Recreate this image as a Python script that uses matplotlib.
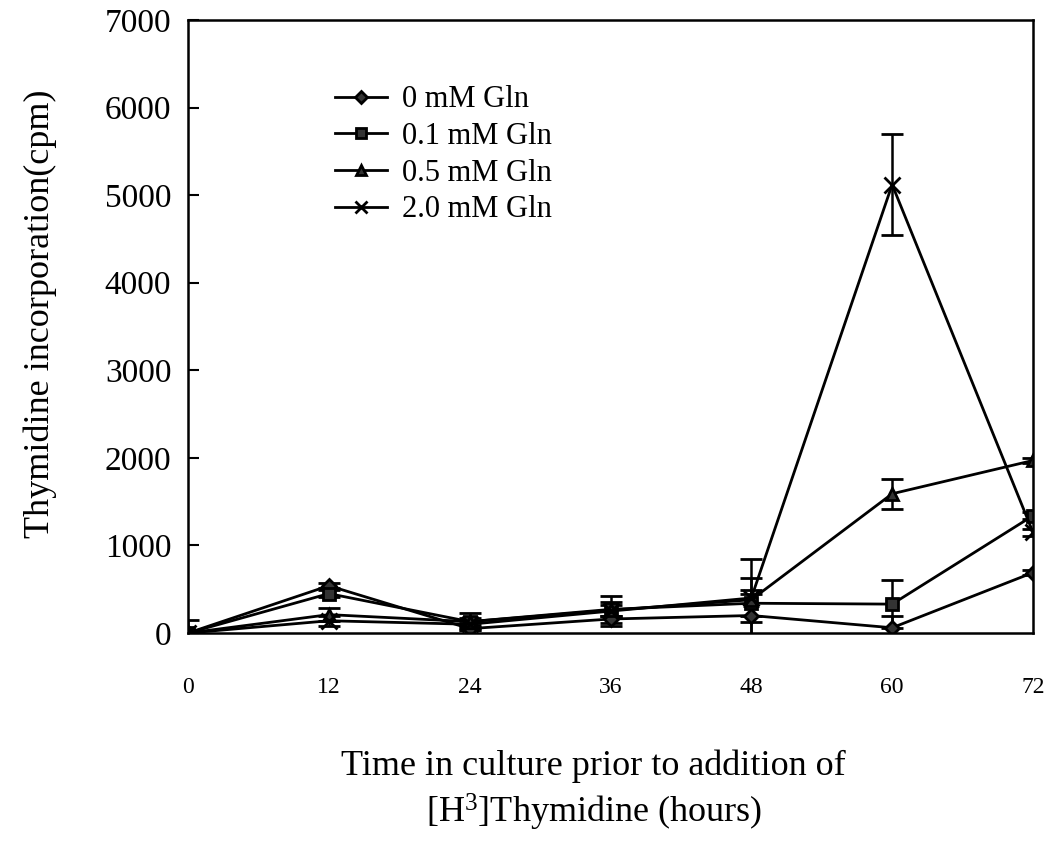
import matplotlib
matplotlib.use("Agg")
import matplotlib.pyplot as plt
from matplotlib.lines import Line2D

plt.rcParams['font.family'] = ['Liberation Serif', 'DejaVu Serif']
plt.rcParams['mathtext.fontset'] = 'custom'
plt.rcParams['mathtext.rm'] = 'Liberation Serif'
plt.rcParams['mathtext.it'] = 'Liberation Serif'

hours = [0, 12, 24, 36, 48, 60, 72]
x_ticks = [0, 12, 24, 36, 48, 60, 72]
y_ticks = [0, 1000, 2000, 3000, 4000, 5000, 6000, 7000]

labels = ["0 mM Gln", "0.1 mM Gln", "0.5 mM Gln", "2.0 mM Gln"]
gln_0 = [0, 540, 50, 160, 200, 60, 690]
gln_01 = [0, 450, 130, 270, 340, 330, 1340]
gln_05 = [0, 210, 130, 260, 380, 1590, 1970]
gln_20 = [0, 140, 100, 250, 400, 5120, 1150]

err_0 = [0, 30, 20, 40, 250, 130, 30]
err_01 = [150, 40, 100, 80, 150, 270, 40]
err_05 = [30, 70, 40, 60, 250, 170, 30]
err_20 = [30, 60, 40, 170, 450, 580, 40]

series = [gln_0, gln_01, gln_05, gln_20]
errors = [err_0, err_01, err_05, err_20]
markers = ['D', 's', '^', 'x']
msizes = [7, 9, 9, 11]

fig = plt.figure(figsize=(10.47, 8.41), dpi=100)
ax = fig.add_axes([0.1796, 0.2473, 0.807, 0.729])

handles = []
for vals, err, mk, ms, lab in zip(series, errors, markers, msizes, labels):
    ax.errorbar(hours, vals, yerr=err, color='black', ecolor='black', lw=2,
                elinewidth=1.8, capsize=8, capthick=2, marker=mk, ms=ms,
                mew=2, mfc='#333333', mec='black')
    handles.append(Line2D([], [], color='black', lw=2, marker=mk, ms=ms * 0.85,
                          mew=2, mfc='#333333', mec='black', label=lab))

ax.set_xlim(0, 72)
ax.set_ylim(0, 7000)
ax.set_xticks(x_ticks)
ax.set_xticklabels([str(t) for t in x_ticks], fontsize=17)
ax.set_yticks(y_ticks)
ax.set_yticklabels([str(v) for v in y_ticks], fontsize=24)
ax.tick_params(axis='x', length=0, pad=32)
ax.tick_params(axis='y', direction='in', length=8, width=1.5, pad=12)
for s in ax.spines.values():
    s.set_linewidth(1.8)

ax.set_ylabel("Thymidine incorporation(cpm)", fontsize=26)
ax.yaxis.set_label_coords(-0.155, 0.52, transform=ax.transAxes)
ax.set_xlabel("Time in culture prior to addition of\n[H$^3$]Thymidine (hours)",
              fontsize=26, linespacing=1.3)
ax.xaxis.set_label_coords(0.48, -0.19, transform=ax.transAxes)
ax.xaxis.label.set_va('top')

leg = ax.legend(handles=handles, loc='upper left', bbox_to_anchor=(0.141, 0.938),
                frameon=False, fontsize=22, handlelength=1.7, handletextpad=0.5,
                labelspacing=0.25)

fig.savefig("out.png", dpi=100)
